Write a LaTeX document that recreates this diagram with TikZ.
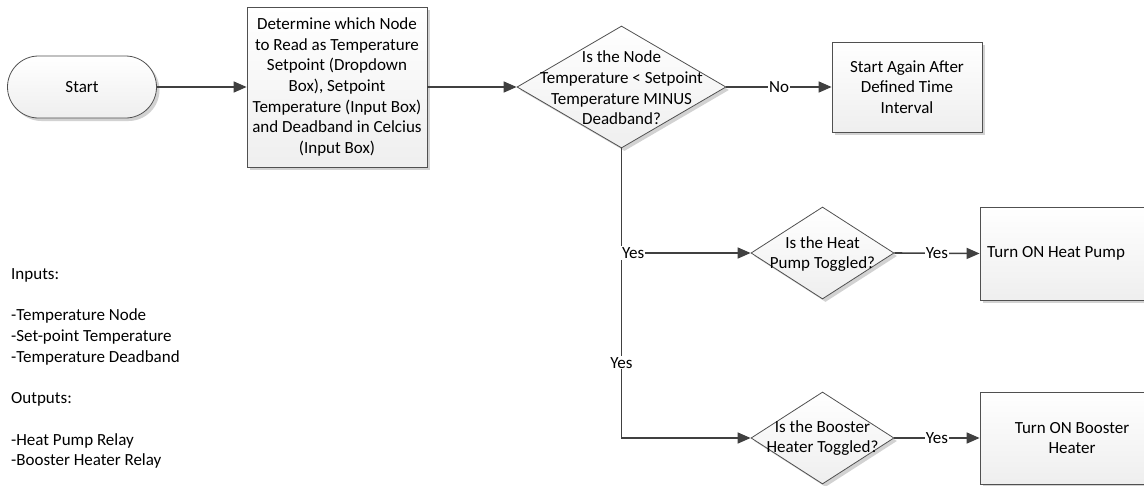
\documentclass[tikz,border=0pt]{standalone}
\usepackage{fontspec}
\setmainfont{Carlito}
\usetikzlibrary{shapes.geometric,shapes.misc,arrows.meta,shadows}
\definecolor{ln}{HTML}{404040}
\definecolor{bd}{HTML}{505050}
\begin{document}
\begin{tikzpicture}[x=1pt,y=-1pt,
  font=\fontsize{17}{20.7}\selectfont,
  shp/.style={draw=bd, line width=0.8pt, top color=white, bottom color=gray!13,
    drop shadow={shadow xshift=3pt, shadow yshift=-3pt, fill=gray!70, opacity=0.5}},
  proc/.style={shp, rectangle, inner sep=0pt, align=center},
  term/.style={shp, rounded rectangle, inner sep=0pt},
  dec/.style={shp, diamond, inner sep=0pt},
  txt/.style={inner sep=0pt, align=center, text=black},
  conn/.style={draw=ln, line width=1.6pt, -{Triangle[length=13pt,width=11pt]}},
  lab/.style={fill=white, inner sep=1pt, text=black}
]
\useasboundingbox (0,0) rectangle (1144,485);
\clip (0,0) rectangle (1144,485);

% Start
\node[term, minimum width=149pt, minimum height=62pt] (start) at (82,87) {Start};

% Process 1
\node[proc, minimum width=180pt, minimum height=160pt] (p1) at (337,87)
  {Determine which Node\\to Read as Temperature\\Setpoint (Dropdown\\Box), Setpoint\\Temperature (Input Box)\\and Deadband in Celcius\\(Input Box)};

% Decision 1
\node[dec, minimum width=209pt, minimum height=122pt] (d1) at (621.5,87) {};
\node[txt] (d1t) at (621.5,88) {Is the Node\\Temperature < Setpoint\\Temperature MINUS\\Deadband?};

% Start again box
\node[proc, minimum width=150pt, minimum height=90pt] (again) at (907,87)
  {Start Again After\\Defined Time\\Interval};

% Decision 2
\node[dec, minimum width=143pt, minimum height=92pt] (d2) at (822.5,253) {};
\node[txt] (d2t) at (822.5,254) {Is the Heat\\Pump Toggled?};

% Heat pump box
\node[proc, minimum width=190pt, minimum height=93pt] (hp) at (1075,253.5) {};
\node[txt, anchor=west] (hpt) at (987,253) {Turn ON Heat Pump};

% Decision 3
\node[dec, minimum width=143pt, minimum height=92pt] (d3) at (822.5,438) {};
\node[txt] (d3t) at (822.5,438) {Is the Booster\\Heater Toggled?};

% Booster box
\node[proc, minimum width=190pt, minimum height=92pt] (bh) at (1075,438) {};
\node[txt] (bht) at (1072,438) {Turn ON Booster\\Heater};

% Notes
\node[txt, align=left, anchor=west] (notes) at (11,368.5)
  {Inputs:\\\mbox{}\\-Temperature Node\\-Set-point Temperature\\-Temperature Deadband\\\mbox{}\\Outputs:\\\mbox{}\\-Heat Pump Relay\\-Booster Heater Relay};

% Connectors
\coordinate (j1) at (d1.south |- d2.west);
\draw[conn] (start.east) -- (p1.west);
\draw[conn] (p1.east) -- (d1.west);
\draw[conn] (d1.east) -- node[lab] {No} (again.west);
\draw[conn] (d1.south) |- node[lab, pos=0.37] {Yes} (d3.west);
\draw[conn] (j1) -- node[lab, pos=0.09] {Yes} (d2.west);
\draw[conn] (d2.east) -- node[lab] {Yes} (hp.west);
\draw[conn] (d3.east) -- node[lab] {Yes} (bh.west);
\end{tikzpicture}
\end{document}
